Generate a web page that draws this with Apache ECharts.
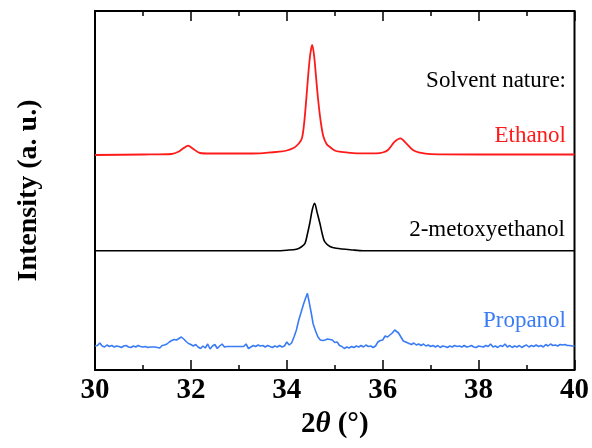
<!DOCTYPE html>
<html>
<head>
<meta charset="utf-8">
<script src="https://cdn.jsdelivr.net/npm/echarts@6/dist/echarts.min.js"></script>
<style>html,body{margin:0;padding:0;background:#fff}#c{width:592px;height:448px}</style>
</head>
<body>
<div id="c"></div>
<script>
// 2θ tick labels
const xTicks = [30, 32, 34, 36, 38, 40];
const seriesNames = ['Ethanol', '2-metoxyethanol', 'Propanol'];
const seriesColors = ['#ff1a1a', '#000000', '#3a7cf5'];

// Ethanol (stacked, offset included) [2θ, intensity]
const ethanolData = [
  [30.0,215],[31.0,215.5],[31.6,216],[31.75,218.5],[31.85,222],[31.94,224.3],[32.05,221],[32.19,217],
  [32.4,216.5],[33.0,216.5],[33.44,216.7],[33.85,218.3],[34.0,219.5],[34.13,221.7],[34.22,225],[34.31,231],
  [34.36,246],[34.41,273],[34.45,297],[34.49,316],[34.53,325],[34.57,314],[34.61,293],[34.65,272],
  [34.7,251],[34.76,234],[34.83,226],[34.9,223],[35.0,219.5],[35.1,218.3],[35.45,216.7],[35.87,216.7],
  [36.0,217.5],[36.11,220],[36.25,228.3],[36.37,231.7],[36.49,226.7],[36.63,220],[36.77,217.3],[37.0,215.8],
  [38.0,215.5],[40.0,215.5]
];

// 2-metoxyethanol
const metoxyData = [
  [30.0,119.3],[33.78,119.3],[34.0,119.8],[34.2,120.7],[34.3,123],[34.38,126.7],[34.43,136],[34.48,147],
  [34.53,160],[34.58,166.7],[34.63,158],[34.69,146.7],[34.74,136],[34.79,128.3],[34.9,123.5],[35.03,121.7],
  [35.38,120],[35.6,119.3],[40.0,119.3]
];

// Propanol
const propanolData = [
  [30.00,24],[30.05,24.5],[30.10,27],[30.15,24],[30.20,23],[30.25,25],[30.30,23.5],[30.35,24.5],[30.40,23],
  [30.45,24],[30.50,23.5],[30.55,22.5],[30.60,24],[30.65,24.5],[30.70,23],[30.75,22.5],[30.80,24],[30.85,23],
  [30.90,24.5],[30.95,23.5],[31.00,23],[31.05,23.5],[31.10,22.5],[31.15,23],[31.20,23],[31.25,23],[31.30,22.5],
  [31.35,22],[31.40,24.5],[31.45,25],[31.50,26],[31.55,28],[31.60,29.5],[31.65,30.5],[31.70,30],[31.75,31.5],
  [31.80,33],[31.85,31],[31.90,28.5],[31.95,26.5],[32.00,25.5],[32.05,24],[32.10,25.5],[32.15,23],[32.20,21.5],
  [32.25,24],[32.30,22],[32.35,26],[32.40,21],[32.45,24],[32.50,25.5],[32.55,21.5],[32.60,24],[32.65,26],
  [32.70,23],[32.75,23.5],[32.80,23.5],[32.90,23.5],[33.00,23.5],[33.10,23.5],[33.15,26],[33.20,21.5],
  [33.25,23],[33.30,24.5],[33.35,23.5],[33.40,25],[33.45,24],[33.50,24.5],[33.55,23],[33.60,24.5],[33.65,23.5],
  [33.70,22.5],[33.75,24],[33.80,23],[33.85,24.5],[33.90,23],[33.95,24],[34.00,28],[34.05,25],[34.10,27],
  [34.15,33],[34.20,40],[34.25,50],[34.30,58],[34.35,66],[34.40,73],[34.43,76.7],[34.47,67],[34.51,57],
  [34.55,46],[34.60,39],[34.65,33],[34.70,30],[34.75,29.5],[34.80,30],[34.85,31],[34.90,30.5],[34.95,30],
  [35.00,27.5],[35.05,28],[35.10,24.5],[35.15,23.5],[35.20,21.5],[35.25,23],[35.30,22],[35.35,23.5],[35.40,22.5],
  [35.45,24],[35.50,23],[35.55,24.5],[35.60,23],[35.65,25],[35.70,23.5],[35.75,24],[35.80,22.5],[35.85,24],
  [35.90,28],[35.95,29.5],[36.00,30],[36.05,34],[36.10,33],[36.15,35],[36.20,37],[36.25,40],[36.28,41.7],
  [36.33,37],[36.38,33],[36.43,29],[36.48,28],[36.55,26.5],[36.60,25.5],[36.65,27],[36.70,25],[36.75,26],
  [36.80,24.5],[36.85,26],[36.90,24],[36.95,25],[37.00,23.5],[37.05,24.5],[37.10,23],[37.15,24.5],[37.20,22.5],
  [37.25,24],[37.30,23.5],[37.35,22.5],[37.40,24],[37.45,23],[37.50,24.5],[37.55,23.5],[37.60,24],[37.65,23],
  [37.70,24.5],[37.75,23],[37.80,23.5],[37.85,24.5],[37.90,23],[37.95,22.5],[38.00,24],[38.05,23.5],[38.10,23],
  [38.15,24.5],[38.20,23.5],[38.25,26],[38.30,23],[38.35,24],[38.40,22.5],[38.45,24.5],[38.50,23.5],[38.55,26],
  [38.60,23],[38.65,24.5],[38.70,22.5],[38.75,24],[38.80,23],[38.85,24.5],[38.90,22.5],[38.95,24],[39.00,25],
  [39.05,23],[39.10,24.5],[39.15,23.5],[39.20,25],[39.25,23.5],[39.30,24.5],[39.35,23],[39.40,25.5],[39.45,24],
  [39.50,26],[39.55,24.5],[39.60,25],[39.65,24],[39.70,25.5],[39.75,25],[39.80,25.5],[39.85,24.5],[39.90,24.5],
  [39.95,24],[40.00,24]
];

const FONT = 'Liberation Serif, Times New Roman, serif';
const chart = echarts.init(document.getElementById('c'), null, {renderer: 'canvas'});

const tickCommon = {
  axisLine: {show: false},
  axisTick: {show: true, inside: true, length: 10, lineStyle: {color: '#000', width: 1.5}},
  minorTick: {show: true, splitNumber: 2, length: 5, lineStyle: {color: '#000', width: 1.5}},
  splitLine: {show: false}
};

chart.setOption({
  animation: false,
  backgroundColor: '#fff',
  grid: {left: 95, right: 17, top: 11, bottom: 78, show: true, borderColor: '#000', borderWidth: 2, backgroundColor: 'transparent'},
  xAxis: [
    Object.assign({
      type: 'value', position: 'bottom', min: xTicks[0], max: xTicks[xTicks.length - 1], interval: 2,
      axisLabel: {show: true, margin: 6, fontFamily: FONT, fontWeight: 'bold', fontSize: 29, color: '#000'},
      name: '{b|2}{i|θ}{b| (°)}', nameLocation: 'middle', nameGap: 40,
      nameTextStyle: {rich: {
        b: {fontFamily: FONT, fontWeight: 'bold', fontSize: 29, color: '#000'},
        i: {fontFamily: FONT, fontWeight: 'bold', fontStyle: 'italic', fontSize: 29, color: '#000'}
      }}
    }, tickCommon),
    Object.assign({
      type: 'value', position: 'top', min: xTicks[0], max: xTicks[xTicks.length - 1], interval: 2,
      axisLabel: {show: false}
    }, tickCommon)
  ],
  yAxis: {
    type: 'value', min: 0, max: 359,
    axisLine: {show: false}, axisTick: {show: false}, axisLabel: {show: false}, splitLine: {show: false},
    name: 'Intensity (a. u.)', nameLocation: 'middle', nameGap: 52,
    nameTextStyle: {fontFamily: FONT, fontWeight: 'bold', fontSize: 28, color: '#000'}
  },
  series: [
    {name: seriesNames[0], type: 'line', data: ethanolData, showSymbol: false, smooth: 0.3,
     lineStyle: {color: seriesColors[0], width: 1.8}, z: 3},
    {name: seriesNames[1], type: 'line', data: metoxyData, showSymbol: false, smooth: 0.3,
     lineStyle: {color: seriesColors[1], width: 1.6}, z: 3},
    {name: seriesNames[2], type: 'line', data: propanolData, showSymbol: false,
     lineStyle: {color: seriesColors[2], width: 1.6}, z: 3}
  ],
  graphic: [
    {type: 'text', right: 26, top: 69, style: {text: 'Solvent nature:', fill: '#000', font: '23px ' + FONT}},
    {type: 'text', right: 26, top: 124, style: {text: seriesNames[0], fill: seriesColors[0], font: '23px ' + FONT}},
    {type: 'text', right: 27, top: 218, style: {text: seriesNames[1], fill: seriesColors[1], font: '23px ' + FONT}},
    {type: 'text', right: 26, top: 309, style: {text: seriesNames[2], fill: seriesColors[2], font: '23px ' + FONT}}
  ]
});
</script>
</body>
</html>
